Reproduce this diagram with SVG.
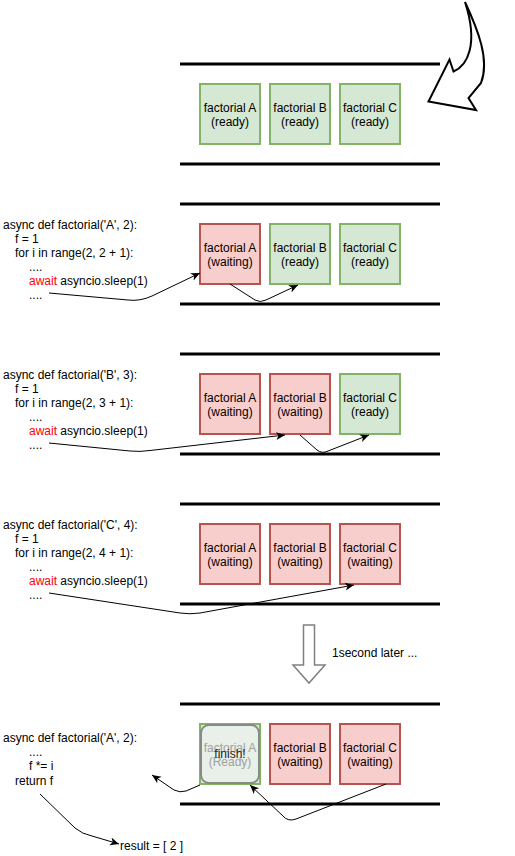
<svg xmlns="http://www.w3.org/2000/svg" width="515" height="856" viewBox="0 0 515 856">
<defs>
<marker id="arr" markerUnits="userSpaceOnUse" markerWidth="10" markerHeight="10" viewBox="0 0 10 10" refX="9" refY="5" orient="auto">
<path d="M0,1 L9,5 L0,9 L2.5,5 z" fill="#000"/>
</marker>
<style>
text{font-family:"Liberation Sans",Arial,Helvetica,sans-serif;font-size:12px;fill:#000}
.c{text-anchor:middle}
.ready{fill:#d5e8d4;stroke:#82b366;stroke-width:2}
.wait{fill:#f8cecc;stroke:#b85450;stroke-width:2}
.lane{stroke:#000;stroke-width:3}
.con{fill:none;stroke:#000;stroke-width:1;marker-end:url(#arr)}
.red{fill:#ff0000}
.gray{fill:#a0a0a0}
</style>
</defs>
<rect width="515" height="856" fill="#fff"/>

<g id="lanes">
<line class="lane" x1="180" y1="64" x2="440" y2="64"/>
<line class="lane" x1="180" y1="164" x2="440" y2="164"/>
<line class="lane" x1="180" y1="204" x2="440" y2="204"/>
<line class="lane" x1="180" y1="304" x2="440" y2="304"/>
<line class="lane" x1="180" y1="354" x2="440" y2="354"/>
<line class="lane" x1="180" y1="454" x2="440" y2="454"/>
<line class="lane" x1="180" y1="504" x2="440" y2="504"/>
<line class="lane" x1="180" y1="604" x2="440" y2="604"/>
<line class="lane" x1="180" y1="704" x2="440" y2="704"/>
<line class="lane" x1="180" y1="804" x2="440" y2="804"/>
</g>

<g id="curved-arrow">
<path d="M 465 2 C 478 30, 490 60, 481 83 L 468.5 98 L 476 110 L 428.5 101.5 L 449.5 59.5 L 453.5 71.5 C 467 66, 479 45, 465 2 Z" fill="#fff" stroke="#000" stroke-width="2" stroke-linejoin="miter"/>
</g>

<!-- Row 1 -->
<g id="r1-a"><rect class="ready" x="200" y="84" width="60" height="60"/><text class="c" x="230" y="111.5">factorial A</text><text class="c" x="230" y="125.5">(ready)</text></g>
<g id="r1-b"><rect class="ready" x="270" y="84" width="60" height="60"/><text class="c" x="300" y="111.5">factorial B</text><text class="c" x="300" y="125.5">(ready)</text></g>
<g id="r1-c"><rect class="ready" x="340" y="84" width="60" height="60"/><text class="c" x="370" y="111.5">factorial C</text><text class="c" x="370" y="125.5">(ready)</text></g>

<!-- Row 2 -->
<g id="r2-code">
<text x="3" y="229">async def factorial('A', 2):</text>
<text x="15" y="243">f = 1</text>
<text x="15" y="257">for i in range(2, 2 + 1):</text>
<text x="29" y="271">....</text>
<text x="29" y="285"><tspan class="red">await</tspan> asyncio.sleep(1)</text>
<text x="29" y="299">....</text>
</g>
<g id="r2-a"><rect class="wait" x="200" y="224" width="60" height="60"/><text class="c" x="230" y="251.5">factorial A</text><text class="c" x="230" y="265.5">(waiting)</text></g>
<g id="r2-b"><rect class="ready" x="270" y="224" width="60" height="60"/><text class="c" x="300" y="251.5">factorial B</text><text class="c" x="300" y="265.5">(ready)</text></g>
<g id="r2-c"><rect class="ready" x="340" y="224" width="60" height="60"/><text class="c" x="370" y="251.5">factorial C</text><text class="c" x="370" y="265.5">(ready)</text></g>

<!-- Row 3 -->
<g id="r3-code">
<text x="3" y="379">async def factorial('B', 3):</text>
<text x="15" y="393">f = 1</text>
<text x="15" y="407">for i in range(2, 3 + 1):</text>
<text x="29" y="421">....</text>
<text x="29" y="435"><tspan class="red">await</tspan> asyncio.sleep(1)</text>
<text x="29" y="449">....</text>
</g>
<g id="r3-a"><rect class="wait" x="200" y="374" width="60" height="60"/><text class="c" x="230" y="401.5">factorial A</text><text class="c" x="230" y="415.5">(waiting)</text></g>
<g id="r3-b"><rect class="wait" x="270" y="374" width="60" height="60"/><text class="c" x="300" y="401.5">factorial B</text><text class="c" x="300" y="415.5">(waiting)</text></g>
<g id="r3-c"><rect class="ready" x="340" y="374" width="60" height="60"/><text class="c" x="370" y="401.5">factorial C</text><text class="c" x="370" y="415.5">(ready)</text></g>

<!-- Row 4 -->
<g id="r4-code">
<text x="3" y="529">async def factorial('C', 4):</text>
<text x="15" y="543">f = 1</text>
<text x="15" y="557">for i in range(2, 4 + 1):</text>
<text x="29" y="571">....</text>
<text x="29" y="585"><tspan class="red">await</tspan> asyncio.sleep(1)</text>
<text x="29" y="599">....</text>
</g>
<g id="r4-a"><rect class="wait" x="200" y="524" width="60" height="60"/><text class="c" x="230" y="551.5">factorial A</text><text class="c" x="230" y="565.5">(waiting)</text></g>
<g id="r4-b"><rect class="wait" x="270" y="524" width="60" height="60"/><text class="c" x="300" y="551.5">factorial B</text><text class="c" x="300" y="565.5">(waiting)</text></g>
<g id="r4-c"><rect class="wait" x="340" y="524" width="60" height="60"/><text class="c" x="370" y="551.5">factorial C</text><text class="c" x="370" y="565.5">(waiting)</text></g>

<!-- Time arrow -->
<g id="later">
<path d="M 303.5 625 L 314.5 625 L 314.5 665 L 325 665 L 309 683 L 293 665 L 303.5 665 Z" fill="#fff" stroke="#808080" stroke-width="1.5"/>
<text x="332" y="657">1second later ...</text>
</g>

<!-- Row 5 -->
<g id="r5-code">
<text x="3" y="742">async def factorial('A', 2):</text>
<text x="29" y="756">....</text>
<text x="29" y="770">f *= i</text>
<text x="15" y="785">return f</text>
</g>
<g id="result"><text x="120" y="850">result = [ 2 ]</text></g>
<g id="r5-a">
<rect class="ready" x="200" y="724" width="60" height="60"/>
<rect x="201" y="725" width="58" height="58" rx="8" ry="8" fill="#e9efe9" stroke="#858c85" stroke-width="2"/>
<text class="c gray" x="230" y="751.5">factorial A</text>
<text class="c gray" x="230" y="765.5">(Ready)</text>
<text class="c" x="230" y="758" style="fill:#222">finish!</text>
</g>
<g id="r5-b"><rect class="wait" x="270" y="724" width="60" height="60"/><text class="c" x="300" y="751.5">factorial B</text><text class="c" x="300" y="765.5">(waiting)</text></g>
<g id="r5-c"><rect class="wait" x="340" y="724" width="60" height="60"/><text class="c" x="370" y="751.5">factorial C</text><text class="c" x="370" y="765.5">(waiting)</text></g>

<g id="connectors">
<path class="con" d="M 49 293 L 128 300 Q 140 301.5 152 296 L 200 273"/>
<path class="con" d="M 230 284 L 255 300 Q 260 303 266 300 L 298 285"/>
<path class="con" d="M 49 443 L 130 451 Q 140 452 150 450.5 L 285 435"/>
<path class="con" d="M 300 435 L 317 450 Q 322 454 328 451 L 369 435"/>
<path class="con" d="M 49 593 L 180 613 Q 190 614.5 200 613 L 354 585"/>
<path class="con" d="M 200 785 L 186 791 Q 180 793 174 790 L 152 775"/>
<path class="con" d="M 386 784 L 296 819 Q 288 822 283 816 L 250 785"/>
<path class="con" d="M 40 794 L 75 828 Q 82 834 92 836 L 119 844"/>
</g>
</svg>
